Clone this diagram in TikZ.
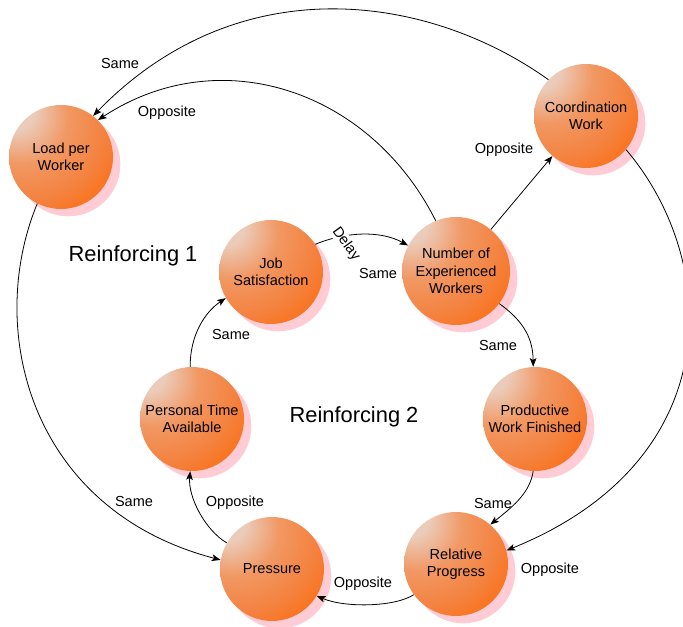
\documentclass[tikz,border=0pt]{standalone}
\usepackage{fontspec}
\setmainfont{Liberation Sans}
\usetikzlibrary{arrows.meta,backgrounds}
\definecolor{peach}{HTML}{EBCBB9}
\definecolor{orngmid}{HTML}{F4823F}
\definecolor{orng}{HTML}{FF6600}
\definecolor{shadowc}{HTML}{FFCCD6}
\pgfdeclareradialshading{orb}{\pgfpoint{-24bp}{24bp}}{color(0bp)=(peach); color(9bp)=(peach); color(22bp)=(orngmid!70!peach); color(36bp)=(orngmid); color(52bp)=(orng); color(100bp)=(orng)}
\tikzset{
  ball/.style={circle, minimum size=78pt, inner sep=0pt, shading=orb, draw=none,
    font=\fontsize{10.9pt}{13pt}\selectfont, align=center, text=black},
  lbl/.style={font=\fontsize{10.9pt}{13pt}\selectfont, inner sep=1pt},
  big/.style={font=\fontsize{16.4pt}{19pt}\selectfont, inner sep=0pt},
  conn/.style={line width=0.6pt, -{Stealth[length=6.5pt,width=5pt,inset=1.5pt]}},
}
\begin{document}
\begin{tikzpicture}[x=0.75pt,y=-0.75pt]
\useasboundingbox (0,0) rectangle (683,627);
\clip (0,0) rectangle (683,627);
% nodes
\node[ball] (lpw) at (61,157) {Load per\\Worker};
\node[ball] (cw) at (586,116) {Coordination\\Work};
\node[ball] (js) at (271,272) {Job\\Satisfaction};
\node[ball, minimum size=81pt] (new) at (456,271) {Number of\\Experienced\\Workers};
\node[ball] (pwf) at (535,419) {Productive\\Work Finished};
\node[ball] (rp) at (456,564) {Relative\\Progress};
\node[ball] (pres) at (272,569) {Pressure};
\node[ball] (pta) at (192,419) {Personal Time\\Available};
% shadows
\begin{scope}[on background layer]
\foreach \n in {lpw,cw,js,pwf,rp,pres,pta}
  \fill[shadowc] ([xshift=5.5pt,yshift=-5.5pt]\n.center) circle (39pt);
\fill[shadowc] ([xshift=5.5pt,yshift=-5.5pt]new.center) circle (40.5pt);
\end{scope}
% connectors
\draw[conn] (cw.136) .. controls (430,-5) and (240,-35) .. (lpw.52);
\draw[conn] (new.112) .. controls (370,90) and (220,40) .. (lpw.45);
\draw[conn] (new) -- (cw);
\draw[conn] (js.32) .. controls (345,232) and (380,230) .. (new.152);
\draw[conn] (new.-37) .. controls (525,322) and (533,340) .. (pwf.92);
\draw[conn] (pwf.-92) .. controls (530,492) and (515,505) .. (rp.49);
\draw[conn] (cw.-40) .. controls (720,260) and (730,460) .. (rp.15);
\draw[conn] (rp.-144) .. controls (395,607) and (345,608) .. (pres.-31);
\draw[conn] (pres.150) .. controls (205,530) and (188,497) .. (pta.-92);
\draw[conn] (pta.92) .. controls (190,335) and (205,312) .. (js.210);
\draw[conn] (lpw.-117) .. controls (-15,330) and (30,510) .. (pres.170);
% labels
\node[lbl] (l1) at (120,64) {Same};
\node[lbl] (l2) at (167,113) {Opposite};
\node[lbl] (l3) at (504,150) {Opposite};
\node[lbl, fill=white, rotate=-54, inner sep=0.5pt] (l4) at (346,244) {Delay};
\node[lbl] (l5) at (378,273) {Same};
\node[lbl] (l6) at (498,345) {Same};
\node[lbl] (l7) at (493,503) {Same};
\node[lbl] (l8) at (550,570) {Opposite};
\node[lbl] (l9) at (363,584) {Opposite};
\node[lbl] (l10) at (235,503) {Opposite};
\node[lbl] (l11) at (231,334) {Same};
\node[lbl] (l12) at (134,501) {Same};
\node[big] (r1) at (133,256) {Reinforcing 1};
\node[big] (r2) at (354,417) {Reinforcing 2};
\end{tikzpicture}
\end{document}
